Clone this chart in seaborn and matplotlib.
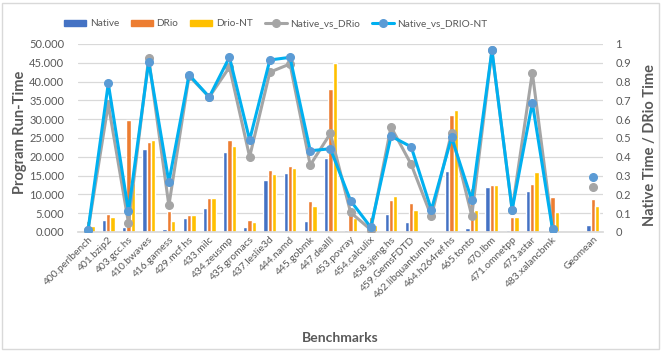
import numpy as np
import pandas as pd
import seaborn as sns
import matplotlib
matplotlib.use("Agg")
import matplotlib.pyplot as plt
from matplotlib.ticker import FuncFormatter, MultipleLocator
from matplotlib.patches import Patch, Rectangle
from matplotlib.lines import Line2D

nan = np.nan

benchmarks = ["400.perlbench", "401.bzip2", "403.gcc.hs", "410.bwaves", "416.gamess",
              "429.mcf.hs", "433.milc", "434.zeusmp", "435.gromacs", "437.leslie3d",
              "444.namd", "445.gobmk", "447.dealII", "453.povray", "454.calculix",
              "458.sjeng.hs", "459.GemsFDTD", "462.libquantum.hs", "464.h264ref.hs",
              "465.tonto", "470.lbm", "471.omnetpp", "473.astar", "483.xalancbmk",
              "", "Geomean"]

native = [0.04, 3.2, 1.4, 22.1, 0.8, 3.7, 6.5, 21.3, 1.3, 13.9, 15.6, 2.95, 19.8, 0.6,
          0.05, 4.85, 2.7, 0.03, 16.2, 1.0, 12.1, 0.46, 10.8, 0.1, nan, 1.9]
drio = [3.0, 4.85, 29.8, 23.9, 5.6, 4.5, 9.1, 24.6, 3.3, 16.5, 17.5, 8.3, 37.9, 5.8,
        4.0, 8.55, 7.7, 0.36, 31.0, 11.6, 12.5, 3.9, 12.8, 9.2, nan, 8.7]
drio_nt = [1.7, 4.0, 13.0, 24.4, 2.9, 4.4, 9.0, 22.9, 2.6, 15.3, 16.9, 6.8, 45.0, 3.6,
           1.9, 9.6, 5.9, 0.25, 32.4, 5.8, 12.5, 4.05, 15.9, 5.4, nan, 7.0]

native_vs_drio = [0.012, 0.68, 0.048, 0.924, 0.141, 0.83, 0.718, 0.877, 0.40, 0.85,
                  0.894, 0.356, 0.524, 0.104, 0.012, 0.559, 0.36, 0.083, 0.527, 0.086,
                  0.966, 0.118, 0.848, 0.014, nan, 0.24]
native_vs_drio_nt = [0.012, 0.79, 0.11, 0.906, 0.266, 0.836, 0.718, 0.93, 0.49, 0.915,
                     0.929, 0.432, 0.443, 0.166, 0.025, 0.51, 0.453, 0.118, 0.503, 0.171,
                     0.966, 0.118, 0.688, 0.014, nan, 0.295]

bar_series = ["Native", "DRio", "Drio-NT"]
bar_colors = ["#4472C4", "#ED7D31", "#FFC000"]
gray_line = "#A5A5A5"
blue_line = "#00B0F0"
blue_marker = "#5B9BD5"
text_gray = "#595959"
grid_gray = "#D9D9D9"

sns.set_theme(style="white")
plt.rcParams["font.family"] = ["Lato", "DejaVu Sans"]

df = pd.DataFrame({
    "bench": benchmarks * 3,
    "series": sum([[s] * len(benchmarks) for s in bar_series], []),
    "value": native + drio + drio_nt,
})

W, H = 662, 351
fig = plt.figure(figsize=(W / 100, H / 100), dpi=100)
fig.patch.set_facecolor("white")
fig.add_artist(Rectangle((2 / W, 2 / H), (W - 5) / W, (H - 5) / H, transform=fig.transFigure,
                         fill=False, edgecolor=grid_gray, linewidth=1.0))

ax = fig.add_axes([78 / W, (H - 232) / H, (603 - 78) / W, (232 - 44) / H])
sns.barplot(data=df, x="bench", y="value", hue="series", order=benchmarks,
            hue_order=bar_series, palette=bar_colors, width=0.64, saturation=1,
            errorbar=None, legend=False, ax=ax, zorder=2)
ax.set_ylim(0, 50)
ax.yaxis.set_major_locator(MultipleLocator(5))
ax.yaxis.set_major_formatter(FuncFormatter(lambda v, p: f"{v:.3f}"))
ax.set_xlim(-0.5, len(benchmarks) - 0.5)
ax.grid(axis="y", color=grid_gray, linewidth=0.9, zorder=0)
ax.set_axisbelow(True)
for side in ["top", "left", "right"]:
    ax.spines[side].set_visible(False)
ax.spines["bottom"].set_color(grid_gray)
ax.tick_params(axis="y", labelsize=8, colors=text_gray, length=0, pad=10)
ax.tick_params(axis="x", length=0, pad=2)
ax.set_xticks(range(len(benchmarks)))
ax.set_xticklabels(benchmarks, rotation=45, ha="right", rotation_mode="anchor",
                   fontsize=7.4, color=text_gray)

mid_y = 1 - 0.5 * (44 + 232) / H
ax.set_xlabel("Benchmarks", fontsize=10, fontweight="bold", color=text_gray)
ax.xaxis.set_label_coords(340 / W, 1 - 338 / H, transform=fig.transFigure)
ax.xaxis.label.set_verticalalignment("center")
ax.set_ylabel("Program Run-Time", fontsize=10.5, fontweight="bold", color=text_gray)
ax.yaxis.set_label_coords(20 / W, mid_y + 6 / H, transform=fig.transFigure)
ax.yaxis.label.set_verticalalignment("center")

ax2 = ax.twinx()
x = np.arange(len(benchmarks))
ax2.plot(x, native_vs_drio, color=gray_line, linewidth=2.2, marker="o", markersize=5.5,
         markerfacecolor=gray_line, markeredgecolor=gray_line, zorder=3)
ax2.plot(x, native_vs_drio_nt, color=blue_line, linewidth=2.2, marker="o", markersize=5.5,
         markerfacecolor=blue_marker, markeredgecolor=blue_marker, zorder=4)
ax2.set_ylim(0, 1)
ax2.yaxis.set_major_locator(MultipleLocator(0.1))
ax2.yaxis.set_major_formatter(FuncFormatter(lambda v, p: f"{round(v, 1):g}"))
ax2.tick_params(axis="y", labelsize=8, colors=text_gray, length=0, pad=9)
for side in ["top", "left", "right", "bottom"]:
    ax2.spines[side].set_visible(False)
ax2.set_ylabel("Native Time / DRio Time", fontsize=10.5, fontweight="bold",
               color=text_gray, rotation=90)
ax2.yaxis.set_label_coords(650 / W, mid_y - 7 / H, transform=fig.transFigure)
ax2.yaxis.label.set_verticalalignment("center")
ax2.grid(False)

handles = [Patch(facecolor=c, edgecolor=c, label=s) for s, c in zip(bar_series, bar_colors)]
handles += [
    Line2D([], [], color=gray_line, linewidth=2.2, marker="o", markersize=5.5,
           markerfacecolor=gray_line, markeredgecolor=gray_line, label="Native_vs_DRio"),
    Line2D([], [], color=blue_line, linewidth=2.2, marker="o", markersize=5.5,
           markerfacecolor=blue_marker, markeredgecolor=blue_marker, label="Native_vs_DRIO-NT"),
]
fig.legend(handles=handles, loc="center", bbox_to_anchor=(276 / W, 1 - 24 / H), ncol=5,
           frameon=False, fontsize=7.2, labelcolor=text_gray, handlelength=2.2,
           handleheight=0.6, handletextpad=0.35, columnspacing=1.2)

fig.savefig("out.png", dpi=100, facecolor="white")
